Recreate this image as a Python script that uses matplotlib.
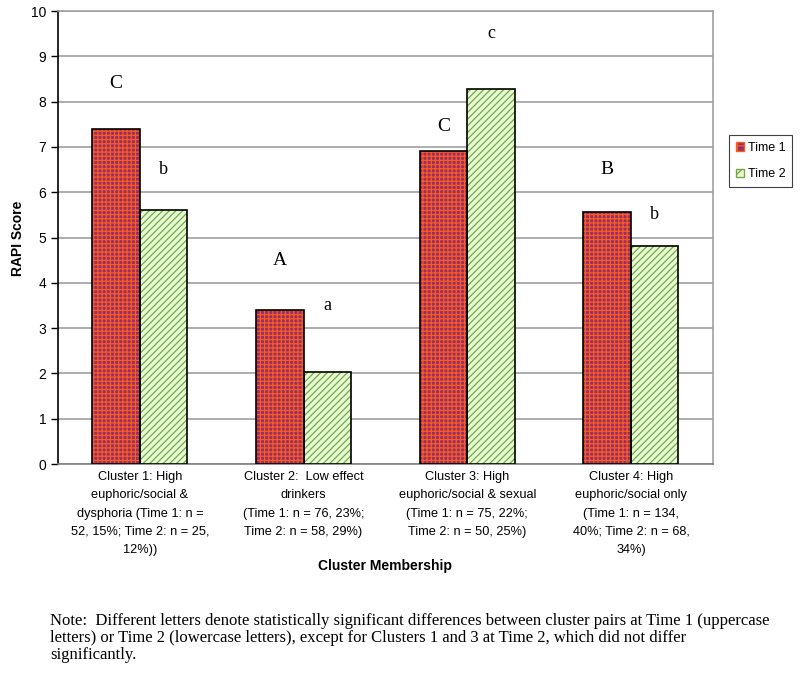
import matplotlib.pyplot as plt
import matplotlib.patches as mpatches
import numpy as np

clusters = [
    "Cluster 1: High\neuphoric/social &\ndysphoria (Time 1: n =\n52, 15%; Time 2: n = 25,\n12%))",
    "Cluster 2:  Low effect\ndrinkers\n(Time 1: n = 76, 23%;\nTime 2: n = 58, 29%)",
    "Cluster 3: High\neuphoric/social & sexual\n(Time 1: n = 75, 22%;\nTime 2: n = 50, 25%)",
    "Cluster 4: High\neuphoric/social only\n(Time 1: n = 134,\n40%; Time 2: n = 68,\n34%)",
]
time1 = [7.40, 3.40, 6.92, 5.56]
time2 = [5.61, 2.03, 8.28, 4.82]
letters1 = ["C", "A", "C", "B"]
letters2 = ["b", "a", "c", "b"]
letter1_y = [8.4, 4.5, 7.45, 6.5]
letter2_y = [6.5, 3.5, 9.5, 5.5]

note = ("Note:  Different letters denote statistically significant differences between cluster pairs at Time 1 (uppercase\n"
        "letters) or Time 2 (lowercase letters), except for Clusters 1 and 3 at Time 2, which did not differ\n"
        "significantly.")

sans = "Liberation Sans"
serif = "Liberation Serif"

plt.rcParams["hatch.linewidth"] = 0.9

fig = plt.figure(figsize=(8, 6.73), dpi=100)
ax = fig.add_axes([0.0725, 0.3105, 0.8185, 0.673])

x = np.arange(len(clusters))
w = 0.29
t1_fill = "#90306e"
t1_hatch = "#ff5a1a"
t2_fill = "#e8fcd4"
t2_hatch = "#72a848"

# fill + hatch, then black outline on top
ax.bar(x - w / 2, time1, w, color=t1_fill, edgecolor=t1_hatch, hatch="++++", linewidth=0, zorder=3)
ax.bar(x - w / 2, time1, w, fill=False, edgecolor="black", linewidth=1.2, zorder=4)
ax.bar(x + w / 2, time2, w, color=t2_fill, edgecolor=t2_hatch, hatch="/////", linewidth=0, zorder=3)
ax.bar(x + w / 2, time2, w, fill=False, edgecolor="black", linewidth=1.2, zorder=4)

for i in range(len(clusters)):
    ax.text(x[i] - w / 2, letter1_y[i], letters1[i], ha="center", va="center",
            fontsize=14, family=serif)
    ax.text(x[i] + w / 2, letter2_y[i], letters2[i], ha="center", va="center",
            fontsize=13, family=serif)

ax.set_xlim(-0.5, 3.5)
ax.set_ylim(0, 10)
ax.set_yticks(range(0, 11))
ax.yaxis.grid(True, color="#a0a0a0", linewidth=1.2, zorder=0)
ax.set_axisbelow(True)
ax.set_xticks(x)
ax.set_xticklabels(clusters, fontsize=9.2, family=sans, linespacing=1.7, va="top")
ax.tick_params(axis="x", length=0, pad=5)
ax.tick_params(axis="y", length=5, direction="out", labelsize=10, width=1)
for lbl in ax.get_yticklabels():
    lbl.set_family(sans)

ax.spines["left"].set_color("black")
ax.spines["left"].set_linewidth(1.2)
for s in ["top", "right", "bottom"]:
    ax.spines[s].set_color("#a0a0a0")
    ax.spines[s].set_linewidth(1.2)
ax.spines["bottom"].set_color("#808080")

fig.text(0.0225, 0.646, "RAPI Score", rotation=90, ha="center", va="center",
         fontsize=10, fontweight="bold", family=sans)
fig.text(0.481, 0.159, "Cluster Membership", ha="center", va="center",
         fontsize=10, fontweight="bold", family=sans)

h1 = mpatches.Patch(facecolor=t1_fill, edgecolor=t1_hatch, hatch="++", label="Time 1")
h2 = mpatches.Patch(facecolor=t2_fill, edgecolor=t2_hatch, hatch="///", label="Time 2")
leg = fig.legend(handles=[h1, h2], loc="upper left", bbox_to_anchor=(0.911, 0.7994),
                 fancybox=False, edgecolor="#404040", framealpha=1,
                 prop={"family": sans, "size": 9}, handlelength=0.7, handleheight=0.7,
                 handletextpad=0.25, borderpad=0.55, labelspacing=1.15, borderaxespad=0)
leg.get_frame().set_linewidth(0.8)

fig.text(0.0625, 0.052, note, ha="left", va="center", fontsize=12, family=serif,
         linespacing=1.08)

fig.savefig("out.png", dpi=100)
